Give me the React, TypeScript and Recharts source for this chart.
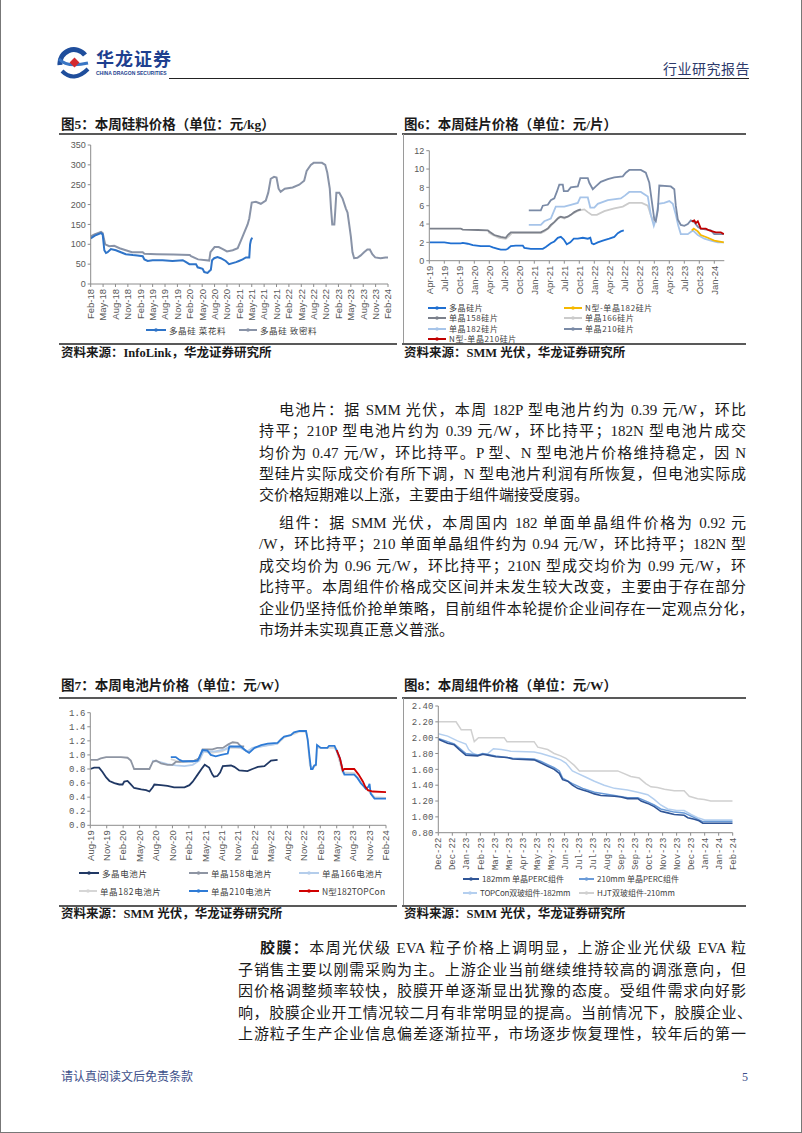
import React from 'react';
import { LineChart, Line, XAxis, YAxis } from 'recharts';

type Pt = [number, number];

// 图5 硅料价格，x = 自 Feb-18 起的月数
const siliconLabels = ['Feb-18', 'May-18', 'Aug-18', 'Nov-18', 'Feb-19', 'May-19', 'Aug-19', 'Nov-19', 'Feb-20', 'May-20', 'Aug-20', 'Nov-20', 'Feb-21', 'May-21', 'Aug-21', 'Nov-21', 'Feb-22', 'May-22', 'Aug-22', 'Nov-22', 'Feb-23', 'May-23', 'Aug-23', 'Nov-23', 'Feb-24'];
const siliconFlower: Pt[] = [[0, 115], [1, 122], [2.5, 128], [2.9, 125], [3.3, 85], [3.7, 78], [4.1, 80], [4.9, 88], [6.1, 85], [7.3, 80], [8.5, 75], [10.2, 73], [11.3, 72], [12.6, 70], [13, 62], [13.8, 58], [15, 60], [17.4, 60], [19.8, 58], [22.3, 60], [23.1, 55], [23.9, 50], [25.5, 50], [25.9, 42], [27.1, 38], [27.5, 30], [28.3, 28], [28.7, 32], [29.1, 36], [29.4, 60], [29.9, 65], [30.7, 68], [31.5, 65], [32.7, 58], [33.5, 50], [35.2, 55], [35.9, 58], [36.8, 62], [37.6, 67], [38.4, 67], [38.6, 100], [38.8, 110], [39.1, 117]];
const siliconDense: Pt[] = [[0, 120], [0.9, 125], [1.7, 128], [2.5, 131], [2.9, 128], [3.5, 100], [4.5, 95], [5.7, 96], [7, 90], [8.5, 85], [10, 80], [12.6, 80], [13, 76], [16, 75], [20, 74], [24, 73], [24.3, 70], [26, 62], [28.7, 59], [29, 80], [30, 93], [31, 93], [32, 88], [33, 82], [34.4, 85], [35.6, 90], [36.4, 110], [37, 125], [38, 150], [38.4, 165], [39, 205], [40, 207], [41.2, 202], [42.4, 210], [43, 230], [43.6, 265], [44.4, 270], [45, 268], [45.5, 240], [46, 232], [47, 240], [48.9, 243], [50.5, 250], [51.7, 260], [52.3, 285], [53.3, 300], [54, 305], [56, 305], [56.8, 300], [57.3, 280], [57.9, 240], [58.2, 190], [58.5, 150], [59, 150], [59.2, 180], [59.5, 230], [60.2, 230], [61, 215], [61.8, 190], [62.2, 180], [62.6, 150], [63, 120], [63.4, 80], [63.8, 65], [64.6, 66], [65.4, 72], [66.2, 80], [67, 87], [67.6, 87], [68.2, 75], [68.9, 67], [70.2, 65], [71.4, 67], [72, 67]];

// 图6 硅片价格，x = 自 Apr-19 起的月数
const waferLabels = ['Apr-19', 'Jul-19', 'Oct-19', 'Jan-20', 'Apr-20', 'Jul-20', 'Oct-20', 'Jan-21', 'Apr-21', 'Jul-21', 'Oct-21', 'Jan-22', 'Apr-22', 'Jul-22', 'Oct-22', 'Jan-23', 'Apr-23', 'Jul-23', 'Oct-23', 'Jan-24'];
const waferPoly: Pt[] = [[0, 2.0], [3, 2.0], [4.3, 1.9], [6.3, 1.9], [6.7, 1.95], [7.7, 1.85], [8.7, 1.7], [10.3, 1.6], [12, 1.6], [12.7, 1.45], [13.7, 1.3], [14.3, 1.2], [15.3, 1.2], [15.7, 1.3], [16.3, 1.6], [17.3, 1.65], [18.7, 1.65], [19, 1.4], [20.3, 1.3], [22.7, 1.3], [23.3, 1.5], [24.3, 1.9], [25, 2.1], [25.7, 2.5], [26.3, 2.6], [26.9, 2.3], [27.5, 1.8], [28.2, 2.0], [28.9, 2.4], [29.7, 2.4], [30.7, 2.5], [31.7, 2.4], [32.2, 2.5], [32.5, 1.9], [32.9, 1.8], [33.7, 2.0], [34.7, 2.2], [36, 2.4], [37, 2.6], [37.7, 3.0], [38.3, 3.2], [38.9, 3.3]];
const wafer158: Pt[] = [[0, 3.5], [6.3, 3.5], [6.7, 3.4], [9.7, 3.35], [11.7, 3.3], [12.2, 3.1], [13, 2.8], [14.3, 2.6], [15.3, 2.5], [15.7, 2.8], [16.3, 3.1], [22.3, 3.1], [23, 3.3], [23.7, 3.5], [24.3, 3.9], [25, 4.2], [25.7, 4.6], [26.3, 4.8], [27, 4.7], [27.7, 4.8], [28.3, 5.0], [29, 5.3], [29.7, 5.5], [30.3, 5.6]];
const wafer166: Pt[] = [[11.8, 3.1], [12.7, 2.8], [14, 2.5], [15.3, 2.4], [16, 2.7], [16.5, 3.0], [22.3, 3.0], [23, 3.2], [24, 3.6], [25, 4.2], [26, 4.8], [27, 4.6], [28, 4.9], [29.2, 5.3], [30, 5.5], [31, 5.6], [31.7, 5.3], [32.5, 5.0], [33.5, 5.0], [35, 5.4], [37, 5.7], [38.7, 5.9], [40, 6.3], [42.5, 6.3], [43.7, 6.0], [44.3, 5.0], [45, 4.0]];
const wafer182: Pt[] = [[19.9, 3.9], [22.3, 3.9], [23, 4.3], [24.3, 4.6], [25.3, 5.9], [27, 5.9], [28.3, 6.1], [29.7, 6.3], [30.2, 6.9], [31.7, 6.9], [32.2, 5.8], [33, 5.8], [33.7, 6.2], [35.7, 6.6], [38.3, 6.8], [39.1, 7.1], [40, 7.5], [42.3, 7.5], [43.7, 7.0], [44.3, 5.0], [44.9, 3.8], [45.3, 4.5], [45.8, 6.2], [47, 6.3], [48, 6.5], [48.7, 6.2], [49.3, 5.0], [49.8, 3.8], [50.3, 2.9], [51.7, 2.9], [52.7, 3.3], [53.7, 2.8], [55, 2.4], [56.3, 2.2], [57.7, 2.0], [58.9, 2.0]];
const wafer210: Pt[] = [[19.9, 5.5], [22.3, 5.5], [22.7, 6.0], [23.7, 6.1], [24.3, 6.6], [25, 6.8], [25.5, 7.5], [26, 8.3], [26.7, 8.3], [26.9, 7.6], [27.7, 7.6], [28.3, 8.0], [29.7, 8.1], [30.2, 9.0], [31.7, 9.0], [32, 8.5], [32.7, 7.8], [33.3, 8.1], [34.3, 8.6], [35.7, 8.9], [37, 9.1], [38.7, 9.2], [39.3, 9.6], [40, 9.9], [42.3, 9.9], [43.3, 9.6], [44, 8.5], [44.5, 6.5], [45, 4.5], [45.3, 4.3], [45.7, 5.5], [46, 8.2], [48.3, 8.1], [49, 7.8], [49.3, 6.0], [49.7, 4.5], [50.3, 3.9], [51, 3.8], [51.7, 4.0], [52.3, 4.4], [53, 4.2], [53.7, 3.7], [54.3, 3.5], [56.3, 3.3], [57, 2.9], [58.9, 2.9]];
const waferN182: Pt[] = [[52.5, 3.3], [52.9, 3.5], [53.7, 3.2], [54.3, 2.8], [55.7, 2.5], [57, 2.2], [58.9, 2.0]];
const waferN210: Pt[] = [[52.5, 4.3], [53, 4.4], [53.3, 4.1], [53.7, 4.3], [54, 3.9], [54.3, 3.5], [55.3, 3.5], [56, 3.3], [57.3, 3.1], [58.3, 3.1], [58.9, 2.9]];

// 图7 电池片价格，x = 自 Aug-19 起的月数
const cellLabels = ['Aug-19', 'Nov-19', 'Feb-20', 'May-20', 'Aug-20', 'Nov-20', 'Feb-21', 'May-21', 'Aug-21', 'Nov-21', 'Feb-22', 'May-22', 'Aug-22', 'Nov-22', 'Feb-23', 'May-23', 'Aug-23', 'Nov-23', 'Feb-24'];
const cellPoly: Pt[] = [[0, 0.80], [0.7, 0.82], [1.6, 0.82], [2.2, 0.76], [2.9, 0.68], [3.5, 0.63], [4.4, 0.60], [5.3, 0.58], [5.9, 0.58], [6.2, 0.62], [6.8, 0.63], [7.4, 0.58], [8, 0.53], [9.3, 0.51], [10.2, 0.50], [10.8, 0.48], [11.4, 0.54], [11.7, 0.58], [12.9, 0.57], [14.1, 0.56], [15.3, 0.54], [17.2, 0.54], [18.1, 0.57], [18.7, 0.62], [19.6, 0.72], [20.5, 0.82], [20.9, 0.86], [21.7, 0.82], [22.3, 0.72], [22.6, 0.69], [23.2, 0.70], [23.7, 0.75], [24.2, 0.84], [25.7, 0.85], [26.3, 0.83], [27.2, 0.78], [28.7, 0.77], [29.6, 0.80], [30.6, 0.83], [31.8, 0.84], [32.4, 0.88], [33, 0.92], [34.2, 0.93]];
const cell158: Pt[] = [[0, 0.93], [1.3, 0.93], [1.9, 0.95], [2.9, 0.97], [5.6, 0.97], [6.8, 0.96], [7.4, 0.92], [7.7, 0.86], [8, 0.80], [10.8, 0.80], [11.4, 0.90], [12, 0.92], [12.9, 0.88], [14.1, 0.86], [15, 0.86], [15.6, 0.90], [16.3, 0.90], [19, 0.92], [19.9, 0.95], [20.5, 1.08], [22.3, 1.08], [23.2, 1.10], [24.2, 1.10], [25.2, 1.15], [26, 1.18], [26.9, 1.17], [27.5, 1.12], [28.1, 1.12]];
const cell166: Pt[] = [[11.3, 0.92], [12.6, 0.90], [14.1, 0.87], [15.6, 0.85], [17.2, 0.84], [18.7, 0.86], [19.9, 0.92], [20.7, 1.05], [22.8, 1.05], [24.5, 1.08], [25.7, 1.12], [27.5, 1.10], [28.7, 1.05], [29.6, 1.10], [31.8, 1.13], [33.6, 1.15], [34.2, 1.16]];
const cell182: Pt[] = [[14.7, 0.94], [16.3, 0.90], [18.7, 0.90], [19.9, 0.93], [20.5, 1.05], [22, 1.03], [24, 1.05], [25.4, 1.10], [27.5, 1.10], [28.7, 1.05], [30, 1.10], [32.4, 1.14], [34.2, 1.16], [35.4, 1.25], [37.2, 1.30], [38.2, 1.33], [39.4, 1.33], [39.7, 1.20], [40.1, 0.85], [40.6, 0.82], [41.2, 0.85], [41.4, 1.10], [44.6, 1.10], [45, 1.05], [46.1, 0.75], [48.2, 0.74], [49.4, 0.62], [50.3, 0.52], [51.2, 0.46], [51.9, 0.40], [54, 0.39]];
const cell210: Pt[] = [[14.7, 0.97], [15.6, 0.97], [16.3, 0.93], [16.9, 0.91], [18.7, 0.91], [19.6, 0.92], [20.5, 1.07], [21.4, 1.06], [22, 1.00], [22.9, 0.98], [23.9, 1.00], [25.1, 1.02], [25.4, 1.12], [27.5, 1.12], [28.4, 1.06], [29, 1.03], [30, 1.10], [31.2, 1.14], [32.4, 1.16], [34.2, 1.17], [34.8, 1.22], [35.4, 1.26], [36.6, 1.28], [37.2, 1.32], [38.2, 1.34], [39.4, 1.34], [39.7, 1.22], [40, 1.0], [40.3, 0.80], [40.6, 0.80], [40.9, 0.85], [41.2, 0.86], [41.4, 1.14], [42.1, 1.10], [43.3, 1.10], [43.6, 1.13], [44.6, 1.13], [45, 1.06], [45.6, 0.95], [46.1, 0.78], [46.4, 0.72], [48.2, 0.72], [48.8, 0.67], [49.4, 0.60], [50, 0.55], [50.3, 0.52], [50.8, 0.55], [51, 0.59], [51.2, 0.45], [51.9, 0.38], [54, 0.38]];
const cellTopcon: Pt[] = [[45, 1.07], [45.6, 0.95], [46.1, 0.78], [46.4, 0.80], [48.2, 0.80], [49, 0.72], [49.8, 0.62], [50.2, 0.55], [50.7, 0.50], [51.6, 0.48], [54, 0.47]];

// 图8 组件价格，x = 自 2022-12 首周起的周数
const moduleLabels = ['Dec-22', 'Dec-22', 'Jan-23', 'Feb-23', 'Mar-23', 'Mar-23', 'Apr-23', 'May-23', 'May-23', 'Jun-23', 'Jul-23', 'Jul-23', 'Aug-23', 'Sep-23', 'Sep-23', 'Oct-23', 'Nov-23', 'Nov-23', 'Dec-23', 'Jan-24', 'Jan-24', 'Feb-24'];
const modulePerc182: Pt[] = [[0, 1.98], [2, 1.93], [3.4, 1.91], [4.5, 1.85], [5.9, 1.78], [8.4, 1.77], [9.5, 1.79], [10.6, 1.78], [12.3, 1.76], [14.8, 1.75], [15.9, 1.73], [20.5, 1.72], [22, 1.68], [23.4, 1.64], [24.8, 1.60], [25.9, 1.55], [26.6, 1.47], [27.7, 1.45], [28.7, 1.40], [29.8, 1.36], [30.9, 1.34], [32, 1.32], [33.4, 1.29], [34.8, 1.27], [37.7, 1.26], [39.1, 1.25], [40.5, 1.23], [42.7, 1.23], [43.4, 1.20], [44.8, 1.17], [46.2, 1.13], [47.6, 1.07], [49.1, 1.05], [50.5, 1.03], [52.6, 1.02], [53.4, 0.99], [54.8, 0.97], [55.8, 0.95], [56.6, 0.92], [63, 0.92]];
const modulePerc210: Pt[] = [[0, 1.99], [2, 1.95], [3.4, 1.92], [4.5, 1.87], [5.9, 1.80], [8.4, 1.78], [9.5, 1.80], [12.3, 1.77], [15.9, 1.74], [20.5, 1.73], [22, 1.70], [23.4, 1.66], [24.8, 1.62], [25.9, 1.58], [26.6, 1.49], [28.7, 1.42], [30.9, 1.36], [33.4, 1.31], [37.7, 1.27], [40.5, 1.24], [42.7, 1.24], [44.8, 1.19], [46.2, 1.15], [47.6, 1.10], [50.5, 1.06], [52.6, 1.05], [54.8, 0.99], [56.6, 0.94], [63, 0.94]];
const moduleTopcon: Pt[] = [[0, 2.05], [2, 2.02], [4.1, 1.96], [5.9, 1.92], [6.5, 1.85], [7.5, 1.80], [8.6, 1.78], [10.6, 1.80], [11.8, 1.86], [13.5, 1.85], [15.5, 1.83], [20.5, 1.82], [22, 1.80], [24.8, 1.75], [26.2, 1.72], [27.3, 1.68], [28.7, 1.58], [29.8, 1.55], [31.6, 1.50], [33.4, 1.45], [35.5, 1.40], [37.7, 1.36], [40.5, 1.34], [42.7, 1.31], [44.8, 1.28], [46.2, 1.22], [47.6, 1.15], [49.1, 1.10], [51, 1.08], [52.6, 1.08], [54.1, 1.03], [55.5, 0.99], [57, 0.96], [63, 0.96]];
const moduleHjt: Pt[] = [[0, 2.20], [3.8, 2.20], [4.9, 2.10], [7, 2.10], [7.7, 1.95], [8.6, 2.00], [14.1, 2.00], [14.7, 1.95], [20.5, 1.95], [21.3, 1.88], [23.4, 1.85], [24.8, 1.80], [26.2, 1.77], [27.3, 1.74], [29.1, 1.65], [30.2, 1.58], [38.4, 1.58], [41.2, 1.51], [43, 1.49], [44.4, 1.42], [45.5, 1.38], [46.9, 1.37], [48.4, 1.35], [50.5, 1.33], [52.6, 1.33], [53.7, 1.26], [55.5, 1.23], [56.9, 1.22], [58.3, 1.20], [63, 1.20]];

const CJK = '"Noto Sans CJK SC", sans-serif';
const SERIF = '"Liberation Serif", "Noto Sans CJK SC", serif';
const SANS = '"Liberation Sans", Arial, sans-serif';
const MONO = '"Liberation Mono", "DejaVu Sans Mono", monospace';

const toRows = (pts: Pt[]) => pts.map(([m, v]) => ({ m, v }));

function RotTick(props: any) {
  const { x, y, payload, labels, font, size } = props;
  const label = labels[Math.round(payload.value / 3)];
  return (
    <text x={x} y={y} transform={`rotate(-90, ${x}, ${y})`} textAnchor="end" dy="0.35em" fontSize={size} fontFamily={font} fill="#595959">
      {label}
    </text>
  );
}

type Series = { pts: Pt[]; color: string; w?: number };

function PriceChart(props: any) {
  const { box, plot, xMax, xLabels, xFont, xSize, yDomain, yTicks, yFmt, yFont, ySize, lines } = props;
  const [left, top, width, height] = box;
  const [pl, pt, pr, pb] = plot;
  const xTicks = xLabels.map((_: string, i: number) => i * 3);
  return (
    <div style={{ position: 'absolute', left, top }}>
      <LineChart width={width} height={height} margin={{ top: pt - top, right: left + width - pr, left: 0, bottom: 0 }}>
        <XAxis
          type="number"
          dataKey="m"
          domain={[0, xMax]}
          ticks={xTicks}
          interval={0}
          height={top + height - pb}
          allowDataOverflow
          axisLine={{ stroke: '#8c8c8c' }}
          tickLine={{ stroke: '#8c8c8c' }}
          tickSize={3}
          tick={(p: any) => <RotTick {...p} labels={xLabels} font={xFont} size={xSize} />}
        />
        <YAxis
          type="number"
          domain={yDomain}
          ticks={yTicks}
          interval={0}
          width={pl - left}
          allowDataOverflow
          tickFormatter={yFmt}
          axisLine={{ stroke: '#8c8c8c' }}
          tickLine={{ stroke: '#8c8c8c' }}
          tickSize={3}
          tick={{ fontSize: ySize, fill: '#595959', fontFamily: yFont }}
        />
        {lines.map((s: Series, i: number) => (
          <Line
            key={i}
            type="linear"
            data={toRows(s.pts)}
            dataKey="v"
            stroke={s.color}
            strokeWidth={s.w ?? 1.8}
            dot={false}
            activeDot={false}
            isAnimationActive={false}
          />
        ))}
      </LineChart>
    </div>
  );
}

function Key({ x, y, color, label, len = 18, size = 8.5, ls = 0.6 }: any) {
  return (
    <div style={{ position: 'absolute', left: x, top: y - 5, height: 10, lineHeight: '10px', display: 'flex', alignItems: 'center', whiteSpace: 'nowrap' }}>
      <svg width={len} height={6} style={{ display: 'block' }}>
        <line x1={0} y1={3} x2={len} y2={3} stroke={color} strokeWidth={2} />
        <circle cx={len / 2} cy={3} r={1.8} fill={color} />
      </svg>
      <span style={{ marginLeft: 3, fontSize: size, lineHeight: '10px', fontFamily: CJK, color: '#404040', letterSpacing: ls }}>{label}</span>
    </div>
  );
}

function Txt({ x, y, w, children, last, size = 15, bold, color = '#1a1a1a', font = SERIF }: any) {
  return (
    <div
      style={{
        position: 'absolute',
        left: x,
        top: y - 11,
        width: w,
        height: 22,
        lineHeight: '22px',
        fontSize: size,
        fontFamily: font,
        fontWeight: bold ? 700 : 400,
        color,
        textAlign: w ? 'justify' : 'left',
        textAlignLast: w && !last ? 'justify' : 'left',
        whiteSpace: w ? 'normal' : 'nowrap',
      }}
    >
      {children}
    </div>
  );
}

function Rule({ x, y, w, h = 1.5, color = '#595959' }: any) {
  return <div style={{ position: 'absolute', left: x, top: y, width: w, height: h, background: color }} />;
}

export default function App() {
  const fmt1 = (v: number) => v.toFixed(1);
  const fmt2 = (v: number) => v.toFixed(2);
  return (
    <div style={{ position: 'absolute', left: 0, top: 0, width: 802, height: 1133, background: '#fff', overflow: 'hidden', boxSizing: 'border-box', borderLeft: '1px solid #777', borderRight: '1px solid #777', borderBottom: '1px solid #777' }}>
      {/* 页眉 */}
      <svg width={34} height={36} viewBox="0 0 34 36" style={{ position: 'absolute', left: 56, top: 46 }}>
        <path d="M3 19 A14 14 0 0 1 28 9" stroke="#1F4E9C" strokeWidth={5} fill="none" />
        <path d="M5 25 Q17 37 31 23" stroke="#1F4E9C" strokeWidth={4} fill="none" />
        <path d="M2 13 Q10 22 31 17" stroke="#3A76C4" strokeWidth={3} fill="none" />
        <rect x={14} y={13} width={7} height={7} fill="#D42A2F" transform="rotate(45 17.5 16.5)" />
      </svg>
      <div style={{ position: 'absolute', left: 95, top: 48, height: 20, fontSize: 18, fontWeight: 700, fontFamily: CJK, color: '#1E3F8F', letterSpacing: 1, lineHeight: '20px' }}>华龙证券</div>
      <div style={{ position: 'absolute', left: 95, top: 70, height: 6, fontSize: 5, fontWeight: 700, fontFamily: SANS, color: '#1E3F8F', lineHeight: '6px', whiteSpace: 'nowrap' }}>CHINA DRAGON SECURITIES</div>
      <Rule x={168} y={78} w={580} h={1} color="#222" />
      <div style={{ position: 'absolute', left: 662, top: 59, fontSize: 14, fontFamily: CJK, color: '#2d3a6b', lineHeight: '18px', letterSpacing: 0.5 }}>行业研究报告</div>

      {/* 图5 / 图6 */}
      <Txt x={60} y={125} size={13.5} bold>图5：本周硅料价格（单位：元/kg）</Txt>
      <Txt x={403} y={125} size={13.5} bold>图6：本周硅片价格（单位：元/片）</Txt>
      <Rule x={58} y={133} w={338} />
      <Rule x={401} y={133} w={344} />
      <Rule x={402} y={134} w={1} h={209} color="#9a9a9a" />
      <PriceChart
        box={[55, 138, 340, 190]}
        plot={[89.7, 145, 387, 284]}
        xMax={72}
        xLabels={siliconLabels}
        xFont={SANS}
        xSize={9.5}
        yDomain={[0, 350]}
        yTicks={[0, 50, 100, 150, 200, 250, 300, 350]}
        yFont={SANS}
        ySize={9}
        lines={[
          { pts: siliconDense, color: '#8993A7', w: 2 },
          { pts: siliconFlower, color: '#2F74C8', w: 2 },
        ]}
      />
      <Key x={145} y={330} color="#2F74C8" label="多晶硅 菜花料" len={20} />
      <Key x={238} y={330} color="#8993A7" label="多晶硅 致密料" len={18} />

      <PriceChart
        box={[400, 143, 340, 160]}
        plot={[428.3, 150.7, 723.3, 260.7]}
        xMax={59}
        xLabels={waferLabels}
        xFont={SANS}
        xSize={9.5}
        yDomain={[0, 12]}
        yTicks={[0, 2, 4, 6, 8, 10, 12]}
        yFont={SANS}
        ySize={9}
        lines={[
          { pts: wafer166, color: '#CBCBCB' },
          { pts: wafer158, color: '#7B808B' },
          { pts: wafer182, color: '#A6C4E9' },
          { pts: wafer210, color: '#7A8AA6' },
          { pts: waferPoly, color: '#1F6FD1' },
          { pts: waferN182, color: '#F5B800' },
          { pts: waferN210, color: '#C00000' },
        ]}
      />
      <Key x={427} y={308.3} color="#1F6FD1" label="多晶硅片" size={8} />
      <Key x={563} y={308.3} color="#F5B800" label="N型-单晶182硅片" size={8} />
      <Key x={427} y={318.3} color="#7B808B" label="单晶158硅片" size={8} />
      <Key x={563} y={318.3} color="#CBCBCB" label="单晶166硅片" size={8} />
      <Key x={427} y={328.6} color="#A6C4E9" label="单晶182硅片" size={8} />
      <Key x={563} y={328.6} color="#7A8AA6" label="单晶210硅片" size={8} />
      <Key x={427} y={338.9} color="#C00000" label="N型-单晶210硅片" size={8} />

      <Rule x={58} y={343} w={338} />
      <Rule x={401} y={343} w={344} />
      <Txt x={60} y={353} size={12.5} bold>资料来源：InfoLink，华龙证券研究所</Txt>
      <Txt x={403} y={353} size={12.5} bold>资料来源：SMM 光伏，华龙证券研究所</Txt>

      {/* 正文 */}
      <Txt x={278} y={410} w={467}>电池片：据 SMM 光伏，本周 182P 型电池片约为 0.39 元/W，环比</Txt>
      <Txt x={258} y={431} w={487}>持平；210P 型电池片约为 0.39 元/W，环比持平；182N 型电池片成交</Txt>
      <Txt x={258} y={453} w={487}>均价为 0.47 元/W，环比持平。P 型、N 型电池片价格维持稳定，因 N</Txt>
      <Txt x={258} y={474} w={487}>型硅片实际成交价有所下调，N 型电池片利润有所恢复，但电池实际成</Txt>
      <Txt x={258} y={495} w={487} last>交价格短期难以上涨，主要由于组件端接受度弱。</Txt>

      <Txt x={278} y={523} w={467}>组件：据 SMM 光伏，本周国内 182 单面单晶组件价格为 0.92 元</Txt>
      <Txt x={258} y={544} w={487}>/W，环比持平；210 单面单晶组件约为 0.94 元/W，环比持平；182N 型</Txt>
      <Txt x={258} y={566} w={487}>成交均价为 0.96 元/W，环比持平；210N 型成交均价为 0.99 元/W，环</Txt>
      <Txt x={258} y={587} w={487}>比持平。本周组件价格成交区间并未发生较大改变，主要由于存在部分</Txt>
      <Txt x={258} y={609} w={495}>企业仍坚持低价抢单策略，目前组件本轮提价企业间存在一定观点分化，</Txt>
      <Txt x={258} y={630} w={487} last>市场并未实现真正意义普涨。</Txt>

      {/* 图7 / 图8 */}
      <Txt x={60} y={686} size={13.5} bold>图7：本周电池片价格（单位：元/W）</Txt>
      <Txt x={403} y={686} size={13.5} bold>图8：本周组件价格（单位：元/W）</Txt>
      <Rule x={58} y={697} w={338} />
      <Rule x={401} y={697} w={344} />
      <Rule x={402} y={698} w={1} h={207} color="#9a9a9a" />
      <PriceChart
        box={[55, 705, 340, 160]}
        plot={[89.3, 712.7, 385, 825.3]}
        xMax={54}
        xLabels={cellLabels}
        xFont={SANS}
        xSize={9.5}
        yDomain={[0, 1.6]}
        yTicks={[0, 0.2, 0.4, 0.6, 0.8, 1.0, 1.2, 1.4, 1.6]}
        yFmt={fmt1}
        yFont={MONO}
        ySize={9}
        lines={[
          { pts: cell182, color: '#D6D6D6' },
          { pts: cell166, color: '#B4CDEB' },
          { pts: cell158, color: '#8E95A3' },
          { pts: cellPoly, color: '#203864' },
          { pts: cell210, color: '#2E7BD6' },
          { pts: cellTopcon, color: '#D00000' },
        ]}
      />
      <Key x={78} y={872.7} color="#203864" label="多晶电池片" len={20} />
      <Key x={188} y={872.7} color="#8E95A3" label="单晶158电池片" len={19} />
      <Key x={298} y={872.7} color="#B4CDEB" label="单晶166电池片" len={20} />
      <Key x={78} y={891} color="#D6D6D6" label="单晶182电池片" len={18} />
      <Key x={188} y={891} color="#2E7BD6" label="单晶210电池片" len={19} />
      <Key x={298} y={891} color="#D00000" label="N型182TOPCon" len={20} ls={0.2} />

      <PriceChart
        box={[400, 700, 345, 172]}
        plot={[437.3, 706, 731.7, 832.7]}
        xMax={63}
        xLabels={moduleLabels}
        xFont={MONO}
        xSize={9}
        yDomain={[0.8, 2.4]}
        yTicks={[0.8, 1.0, 1.2, 1.4, 1.6, 1.8, 2.0, 2.2, 2.4]}
        yFmt={fmt2}
        yFont={MONO}
        ySize={9}
        lines={[
          { pts: moduleHjt, color: '#D0D0D0', w: 1.5 },
          { pts: moduleTopcon, color: '#B4CFEF', w: 1.5 },
          { pts: modulePerc210, color: '#6A9BD8', w: 1.5 },
          { pts: modulePerc182, color: '#2F5597', w: 1.6 },
        ]}
      />
      <Key x={462} y={879.3} color="#2F5597" label="182mm 单晶PERC组件" len={16} size={8} ls={0} />
      <Key x={578} y={879.3} color="#6A9BD8" label="210mm 单晶PERC组件" len={15} size={8} ls={0} />
      <Key x={462} y={892.7} color="#B4CFEF" label="TOPCon双玻组件-182mm" len={14} size={8} ls={-0.2} />
      <Key x={578} y={892.7} color="#D0D0D0" label="HJT双玻组件-210mm" len={15} size={8} ls={0} />

      <Rule x={58} y={905} w={338} />
      <Rule x={401} y={905} w={344} />
      <Txt x={60} y={914} size={12.5} bold>资料来源：SMM 光伏，华龙证券研究所</Txt>
      <Txt x={403} y={914} size={12.5} bold>资料来源：SMM 光伏，华龙证券研究所</Txt>

      {/* 胶膜 */}
      <Txt x={259} y={948} w={486}><b>胶膜：</b>本周光伏级 EVA 粒子价格上调明显，上游企业光伏级 EVA 粒</Txt>
      <Txt x={237} y={970} w={508}>子销售主要以刚需采购为主。上游企业当前继续维持较高的调涨意向，但</Txt>
      <Txt x={237} y={991} w={508}>因价格调整频率较快，胶膜开单逐渐显出犹豫的态度。受组件需求向好影</Txt>
      <Txt x={237} y={1013} w={514}>响，胶膜企业开工情况较二月有非常明显的提高。当前情况下，胶膜企业、</Txt>
      <Txt x={237} y={1034} w={508}>上游粒子生产企业信息偏差逐渐拉平，市场逐步恢复理性，较年后的第一</Txt>

      {/* 页脚 */}
      <Txt x={60} y={1077} size={12} color="#3d4f8a">请认真阅读文后免责条款</Txt>
      <Txt x={741} y={1077} size={12} color="#3d4f8a">5</Txt>
    </div>
  );
}
